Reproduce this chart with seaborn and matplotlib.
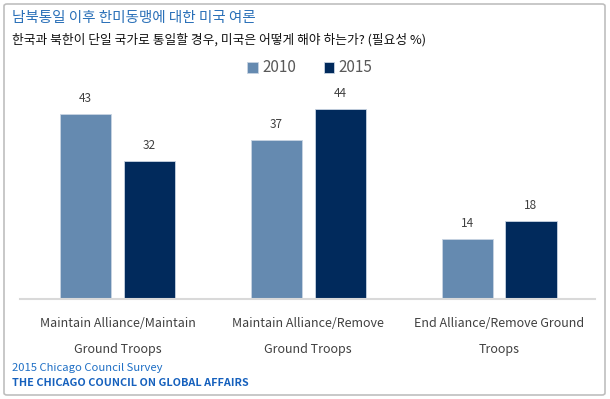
import pandas as pd
import seaborn as sns
import matplotlib.pyplot as plt
from matplotlib.patches import FancyBboxPatch

# data
categories = ["Maintain Alliance/Maintain\nGround Troops",
              "Maintain Alliance/Remove\nGround Troops",
              "End Alliance/Remove Ground\nTroops"]
years = ["2010", "2015"]
vals_2010 = [43, 37, 14]
vals_2015 = [32, 44, 18]

df = pd.DataFrame({
    "cat": categories * 2,
    "year": [years[0]] * 3 + [years[1]] * 3,
    "pct": vals_2010 + vals_2015,
})

sns.set_style("white")
plt.rcParams['font.family'] = ['Noto Sans CJK KR', 'DejaVu Sans']

fig = plt.figure(figsize=(6.1, 3.99), dpi=100)
ax = fig.add_axes([20/610, 100/399, 575/610, 215.5/399])

pal = {"2010": "#658AB0", "2015": "#012A5C"}
sns.barplot(data=df, x="cat", y="pct", hue="year", hue_order=years,
            palette=pal, width=0.67, gap=0.2, saturation=1,
            edgecolor="#c8d4e2", linewidth=0.6, ax=ax)

for c in ax.containers:
    ax.bar_label(c, padding=6.5, fontsize=8.5, color="#404040")

ax.set_xlim(-0.511, 2.503)
ax.set_ylim(0, 50)
ax.set_xlabel("")
ax.set_ylabel("")
ax.set_yticks([])
for s in ["top", "left", "right"]:
    ax.spines[s].set_visible(False)
ax.spines["bottom"].set_color("#d9d9d9")
ax.spines["bottom"].set_linewidth(1.5)
ax.tick_params(axis="x", length=0, pad=13, labelsize=9, labelcolor="#404040")
for t in ax.get_xticklabels():
    t.set_linespacing(2.25)

ax.legend(loc="center left", bbox_to_anchor=(247/610, 1 - 68/399),
          bbox_transform=fig.transFigure, ncol=2, frameon=False,
          handlelength=0.7, handleheight=0.7, handletextpad=0.3,
          columnspacing=1.8, borderpad=0, borderaxespad=0,
          prop={"size": 11}, labelcolor="#595959")

fig.text(12/610, 1 - 18/399, "남북통일 이후 한미동맹에 대한 미국 여론",
         fontsize=10.5, color="#2A70B8", va="center")
fig.text(12/610, 1 - 40/399,
         "한국과 북한이 단일 국가로 통일할 경우, 미국은 어떻게 해야 하는가? (필요성 %)",
         fontsize=9.2, color="#111111", va="center")
fig.text(12/610, 1 - 368/399, "2015 Chicago Council Survey",
         fontsize=8.1, color="#1f6fc5", va="center")
fig.text(12/610, 1 - 383/399, "THE CHICAGO COUNCIL ON GLOBAL AFFAIRS",
         fontsize=7.8, color="#1560bd", va="center", fontweight="bold")

fig.patches.append(FancyBboxPatch((4/610, 4/399), 601/610, 391/399,
                                  boxstyle="round,pad=0,rounding_size=0.005",
                                  transform=fig.transFigure, fill=False,
                                  edgecolor="#bfbfbf", linewidth=1.2))

fig.savefig("out.png", dpi=100)
